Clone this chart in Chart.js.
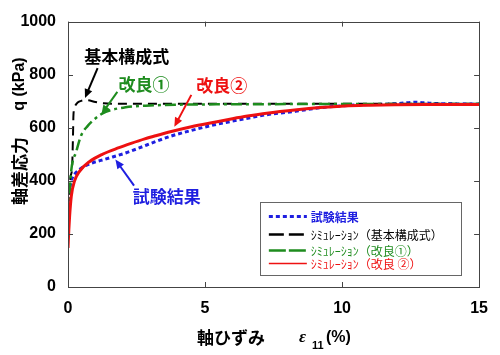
<!DOCTYPE html>
<html><head><meta charset="utf-8">
<script src="https://cdn.jsdelivr.net/npm/chart.js@4/dist/chart.umd.min.js"></script>
<style>html,body{margin:0;padding:0;background:#fff;}#wrap{width:500px;height:355px;position:relative;}</style>
</head><body><div id="wrap"><canvas id="c" width="500" height="355"></canvas></div>
<script>
// ---- data ----
const xTicks = [0, 5, 10, 15];
const yTicks = [0, 200, 400, 600, 800, 1000];
const seriesNames = ["試験結果", "ｼﾐｭﾚｰｼｮﾝ（基本構成式）", "ｼﾐｭﾚｰｼｮﾝ（改良①）", "ｼﾐｭﾚｰｼｮﾝ（改良 ②）"];
const blueX = [0, 0.03, 0.08, 0.17, 0.3, 0.42, 0.6, 0.9, 1.2, 1.5, 2.1, 2.6, 3.2, 3.8, 4.5, 5.3, 6.0, 6.6, 7.3, 8.3, 9.0, 9.8, 10.5, 11.3, 12.0, 12.7, 13.3, 14.0, 15];
const blueY = [244, 320, 380, 414, 432, 443, 455, 468, 477, 486, 505, 524, 548, 570, 590, 610, 625, 637, 650, 662, 673, 681, 686, 688, 691, 696, 692, 690, 689];
const blackX = [0, 0.05, 0.1, 0.15, 0.18, 0.2, 0.25, 0.35, 0.5, 0.7, 1.0, 1.3, 1.8, 3, 15];
const blackY = [290, 370, 420, 450, 560, 650, 680, 695, 702, 704, 697, 692, 690, 690, 690];
const greenX = [0, 0.05, 0.12, 0.3, 0.48, 0.72, 1.02, 1.38, 2.1, 3.0, 4.0, 5.0, 15];
const greenY = [270, 340, 440, 510, 571, 607, 637, 660, 677, 684, 687, 688, 690];
const redX = [0, 0.03, 0.06, 0.12, 0.24, 0.42, 0.78, 1.25, 1.86, 2.3, 2.8, 3.2, 3.77, 4.5, 5.34, 6.0, 6.55, 7.25, 8.35, 9.2, 10.1, 11.0, 11.9, 13.0, 14.0, 15];
const redY = [147, 215, 269, 342, 400, 436, 472, 500, 525, 541, 558, 570, 586, 604, 621, 634, 644, 655, 668, 676, 682, 685, 687, 688, 688, 688];

const pts = (xs, ys) => xs.map((x, i) => ({x: x, y: ys[i]}));

const COL = {blue: '#1f1fe0', black: '#000000', green: '#1e8c1e', red: '#ee1111'};

const annotations = [
  {text: "基本構成式", color: COL.black, tx: 2.14, ty: 869, ax1: 1.08, ay1: 825, ax2: 0.62, ay2: 712},
  {text: "改良①", color: COL.green, tx: 2.77, ty: 764, ax1: 1.80, ay1: 735, ax2: 1.22, ay2: 651},
  {text: "改良②", color: COL.red, tx: 5.61, ty: 760, ax1: 4.5, ay1: 724, ax2: 3.88, ay2: 604},
  {text: "試験結果", color: COL.blue, tx: 3.6, ty: 342, ax1: 2.41, ay1: 382, ax2: 1.73, ay2: 480}
];

const FONT_CJK = '"Noto Sans CJK JP", "Liberation Sans", sans-serif';

function arrow(ctx, x1, y1, x2, y2, color) {
  const ang = Math.atan2(y2 - y1, x2 - x1);
  const hl = 9, hw = 4;
  ctx.save();
  ctx.strokeStyle = color; ctx.fillStyle = color; ctx.lineWidth = 2; ctx.setLineDash([]);
  ctx.beginPath();
  ctx.moveTo(x1, y1);
  ctx.lineTo(x2 - Math.cos(ang) * hl * 0.8, y2 - Math.sin(ang) * hl * 0.8);
  ctx.stroke();
  ctx.beginPath();
  ctx.moveTo(x2, y2);
  ctx.lineTo(x2 - Math.cos(ang) * hl - Math.sin(ang) * hw, y2 - Math.sin(ang) * hl + Math.cos(ang) * hw);
  ctx.lineTo(x2 - Math.cos(ang) * hl + Math.sin(ang) * hw, y2 - Math.sin(ang) * hl - Math.cos(ang) * hw);
  ctx.closePath();
  ctx.fill();
  ctx.restore();
}

const decor = {
  id: 'decor',
  afterDatasetsDraw(chart) {
    const ctx = chart.ctx, a = chart.chartArea;
    const xs = chart.scales.x, ys = chart.scales.y;
    ctx.save();
    // frame
    ctx.strokeStyle = '#444'; ctx.lineWidth = 1; ctx.setLineDash([]);
    ctx.strokeRect(Math.round(a.left) + 0.5, Math.round(a.top) + 0.5, Math.round(a.right - a.left), Math.round(a.bottom - a.top));
    // inward ticks
    ctx.beginPath();
    xTicks.forEach(v => {
      const px = Math.round(xs.getPixelForValue(v)) + 0.5;
      ctx.moveTo(px, a.bottom); ctx.lineTo(px, a.bottom - 5);
      ctx.moveTo(px, a.top); ctx.lineTo(px, a.top + 5);
    });
    yTicks.forEach(v => {
      const py = Math.round(ys.getPixelForValue(v)) + 0.5;
      ctx.moveTo(a.left, py); ctx.lineTo(a.left + 5, py);
      ctx.moveTo(a.right, py); ctx.lineTo(a.right - 5, py);
    });
    ctx.stroke();

    // annotations
    ctx.textAlign = 'center'; ctx.textBaseline = 'middle';
    ctx.font = 'bold 17px ' + FONT_CJK;
    annotations.forEach(an => {
      ctx.fillStyle = an.color;
      ctx.fillText(an.text, xs.getPixelForValue(an.tx), ys.getPixelForValue(an.ty));
      arrow(ctx, xs.getPixelForValue(an.ax1), ys.getPixelForValue(an.ay1), xs.getPixelForValue(an.ax2), ys.getPixelForValue(an.ay2), an.color);
    });

    // legend box
    const lx = xs.getPixelForValue(7.0), ly = ys.getPixelForValue(322);
    const lw = 201, lh = 73;
    ctx.fillStyle = '#fff';
    ctx.fillRect(lx, ly, lw, lh);
    ctx.strokeStyle = '#666'; ctx.lineWidth = 1;
    ctx.strokeRect(Math.round(lx) + 0.5, Math.round(ly) + 0.5, lw, lh);
    const rows = [
      {c: COL.blue, w: 3, d: [4, 3], y: 15},
      {c: COL.black, w: 2.5, d: [15, 5], y: 33},
      {c: COL.green, w: 2.5, d: [17, 3], y: 49},
      {c: COL.red, w: 1.5, d: [], y: 62}
    ];
    ctx.textAlign = 'left'; ctx.textBaseline = 'middle';
    rows.forEach((r, i) => {
      ctx.strokeStyle = r.c; ctx.lineWidth = r.w; ctx.setLineDash(r.d);
      ctx.beginPath();
      ctx.moveTo(lx + 9, ly + r.y); ctx.lineTo(lx + 47, ly + r.y);
      ctx.stroke();
      ctx.setLineDash([]);
      ctx.fillStyle = r.c;
      ctx.font = (i === 0 ? 'bold ' : '') + '12px ' + FONT_CJK;
      ctx.fillText(seriesNames[i], lx + 51, ly + r.y + 1);
    });

    // axis titles
    ctx.fillStyle = '#000';
    ctx.font = 'bold 17px ' + FONT_CJK;
    ctx.textAlign = 'left'; ctx.textBaseline = 'middle';
    ctx.fillText('軸ひずみ', 197, 338);
    ctx.font = 'italic bold 17px "Liberation Serif", serif';
    ctx.fillText('ε', 299, 338);
    ctx.font = 'bold 11px "Liberation Sans", sans-serif';
    ctx.fillText('11', 312, 346);
    ctx.font = 'bold 16px "Liberation Sans", sans-serif';
    ctx.fillText('(%)', 326, 338);

    ctx.save();
    ctx.translate(20, 132);
    ctx.rotate(-Math.PI / 2);
    ctx.textAlign = 'center';
    ctx.font = 'bold 17px ' + FONT_CJK;
    ctx.fillText('軸差応力', -39, 0);
    ctx.font = 'bold 16px "Liberation Sans", sans-serif';
    ctx.fillText('q (kPa)', 48, 0);
    ctx.restore();

    ctx.restore();
  }
};

new Chart(document.getElementById('c'), {
  type: 'scatter',
  data: {
    datasets: [
      {label: seriesNames[3], data: pts(redX, redY), showLine: true, borderColor: COL.red, borderWidth: 3, pointRadius: 0, cubicInterpolationMode: 'monotone', order: 0},
      {label: seriesNames[2], data: pts(greenX, greenY), showLine: true, borderColor: COL.green, borderWidth: 2.5, borderDash: [11, 4, 3, 4], pointRadius: 0, cubicInterpolationMode: 'monotone', order: 1},
      {label: seriesNames[1], data: pts(blackX, blackY), showLine: true, borderColor: COL.black, borderWidth: 2, borderDash: [9, 6], pointRadius: 0, cubicInterpolationMode: 'monotone', order: 2},
      {label: seriesNames[0], data: pts(blueX, blueY), showLine: true, borderColor: COL.blue, borderWidth: 3, borderDash: [4, 3], pointRadius: 0, cubicInterpolationMode: 'monotone', order: 3}
    ]
  },
  options: {
    responsive: false, animation: false, devicePixelRatio: 1,
    layout: {padding: {left: 0, right: 15, top: 12, bottom: 0}},
    plugins: {legend: {display: false}, tooltip: {enabled: false}},
    scales: {
      x: {
        type: 'linear', min: 0, max: 15,
        afterBuildTicks: s => { s.ticks = xTicks.map(v => ({value: v})); },
        afterFit: s => { s.height = 68; },
        grid: {display: false, drawTicks: false}, border: {display: false},
        ticks: {color: '#000', padding: 12, callback: v => String(v), font: {family: '"Liberation Sans", sans-serif', size: 16, weight: 'bold'}, maxRotation: 0}
      },
      y: {
        type: 'linear', min: 0, max: 1000,
        afterBuildTicks: s => { s.ticks = yTicks.map(v => ({value: v})); },
        afterFit: s => { s.width = 68; },
        grid: {display: false, drawTicks: false}, border: {display: false},
        ticks: {color: '#000', padding: 12, callback: v => String(v), font: {family: '"Liberation Sans", sans-serif', size: 16, weight: 'bold'}}
      }
    }
  },
  plugins: [decor]
});
</script></body></html>
